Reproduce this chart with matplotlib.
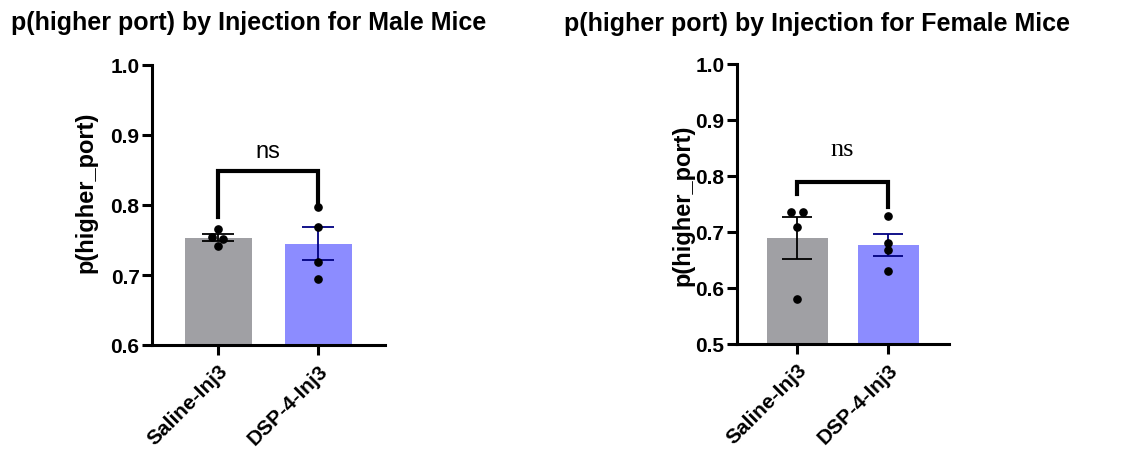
import numpy as np
import matplotlib
matplotlib.use("Agg")
import matplotlib.pyplot as plt

plt.rcParams["font.family"] = ["Liberation Sans", "DejaVu Sans"]
plt.rcParams["font.weight"] = "bold"

# -------------------------
# data
# -------------------------
groups = ["Saline-Inj3", "DSP-4-Inj3"]

male_saline = [0.766, 0.755, 0.751, 0.742]
male_dsp = [0.797, 0.769, 0.718, 0.694]
female_saline = [0.735, 0.735, 0.709, 0.580]
female_dsp = [0.728, 0.680, 0.667, 0.631]

# small horizontal jitter of the dots (axis units)
male_saline_jit = [0.0, -0.06, 0.05, 0.0]
male_dsp_jit = [0.0, 0.0, 0.0, 0.0]
female_saline_jit = [-0.07, 0.06, 0.0, 0.0]
female_dsp_jit = [0.0, 0.0, 0.0, 0.0]

# significance brackets: (top, left leg end, right leg end)
male_bracket = (0.849, 0.783, 0.801)
female_bracket = (0.789, 0.768, 0.744)

bar_colors = ["#A0A0A4", "#8C8CFF"]
err_colors = ["black", "#000080"]

fig = plt.figure(figsize=(11.31, 4.56), dpi=100)


def panel(ax, samples, jitters, bracket, ylim, yticks, capsize, ns_y, ns_font, ns_size):
    x = np.arange(len(samples))
    means = [np.mean(s) for s in samples]
    sems = [np.std(s, ddof=1) / np.sqrt(len(s)) for s in samples]

    ax.bar(x, means, width=0.67, color=bar_colors, zorder=1)
    for i in range(len(samples)):
        ax.errorbar(x[i], means[i], yerr=sems[i], color=err_colors[i],
                    capsize=capsize, capthick=1.3, elinewidth=1.3, zorder=2)
        ax.plot(x[i] + np.array(jitters[i]), samples[i], "o", color="black",
                markersize=5.2, zorder=3)

    top, l_end, r_end = bracket
    ax.plot([0, 0, 1, 1], [l_end, top, top, r_end], color="black",
            linewidth=3, solid_joinstyle="miter", zorder=3)
    ax.text(0.5, ns_y, "ns", ha="center", va="center", fontsize=ns_size,
            family=ns_font, fontweight="normal")

    ax.set_xlim(-0.66, 1.67)
    ax.set_ylim(*ylim)
    ax.set_yticks(yticks)
    ax.set_yticklabels([f"{t:.1f}" for t in yticks], fontsize=15, fontweight="bold")
    ax.set_xticks(x)
    ax.set_xticklabels(groups, rotation=45, ha="right", rotation_mode="anchor",
                       fontsize=15, fontweight="bold")
    for s in ["top", "right"]:
        ax.spines[s].set_visible(False)
    for s in ["left", "bottom"]:
        ax.spines[s].set_linewidth(2.2)
    ax.tick_params(axis="both", length=7, width=2.2, pad=2)
    ax.tick_params(axis="x", pad=4)
    ax.set_ylabel("p(higher_port)", fontsize=17, fontweight="bold")


# -------------------------
# male panel
# -------------------------
ax1 = fig.add_axes([152 / 1131, 1 - 346 / 456, 233 / 1131, 280 / 456])
panel(ax1, [male_saline, male_dsp], [male_saline_jit, male_dsp_jit], male_bracket,
      (0.6, 1.0), [0.6, 0.7, 0.8, 0.9, 1.0], 11.5, 0.877, "Liberation Sans", 17)
ax1.yaxis.set_label_coords(-0.235, 0.55)
fig.text(249 / 1131, 1 - 30 / 456, "p(higher port) by Injection for Male Mice",
         ha="center", va="baseline", fontsize=18, fontweight="bold")

# -------------------------
# female panel
# -------------------------
ax2 = fig.add_axes([737 / 1131, 1 - 345 / 456, 212 / 1131, 280 / 456])
panel(ax2, [female_saline, female_dsp], [female_saline_jit, female_dsp_jit], female_bracket,
      (0.5, 1.0), [0.5, 0.6, 0.7, 0.8, 0.9, 1.0], 10.8, 0.848, "Liberation Serif", 19)
ax2.yaxis.set_label_coords(-0.20, 0.5)
fig.text(817 / 1131, 1 - 31 / 456, "p(higher port) by Injection for Female Mice",
         ha="center", va="baseline", fontsize=18, fontweight="bold")

fig.savefig("out.png", dpi=100)
